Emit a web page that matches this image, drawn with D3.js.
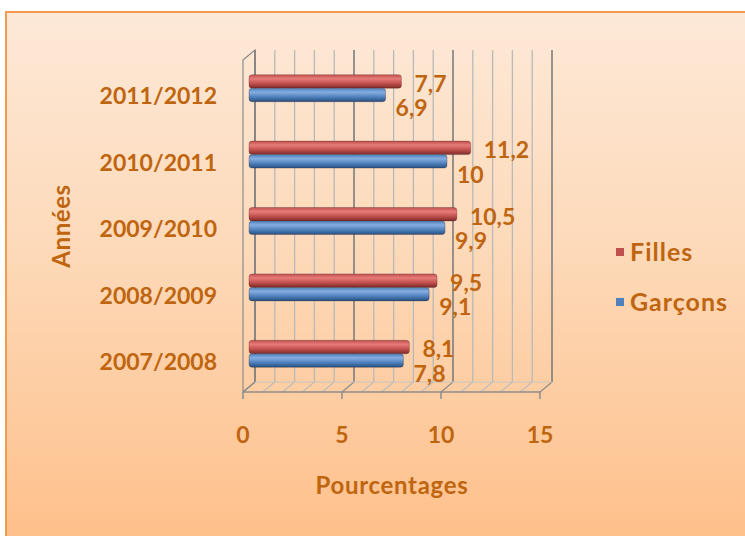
<!DOCTYPE html>
<html>
<head>
<meta charset="utf-8">
<script src="https://cdn.jsdelivr.net/npm/d3@7"></script>
<style>
  body { margin: 0; background: #fff; }
  svg text { font-family: Lato, "Open Sans", sans-serif; font-weight: bold; }
</style>
</head>
<body>
<svg id="chart" width="745" height="536"></svg>
<script>
// data
var years = ["2007/2008", "2008/2009", "2009/2010", "2010/2011", "2011/2012"];
var filles = [8.1, 9.5, 10.5, 11.2, 7.7];
var garcons = [7.8, 9.1, 9.9, 10, 6.9];
var xTicks = [0, 5, 10, 15];
var seriesNames = ["Filles", "Garçons"];

var svg = d3.select('#chart');
var defs = svg.append('defs');
var textColor = "#c0650f";

// background
var bg = defs.append('linearGradient').attr('id', 'bg')
  .attr('x1', 0).attr('y1', 0).attr('x2', 0).attr('y2', 1);
bg.append('stop').attr('offset', '0%').attr('stop-color', '#fde9d8');
bg.append('stop').attr('offset', '45%').attr('stop-color', '#fdd9b8');
bg.append('stop').attr('offset', '100%').attr('stop-color', '#febf89');

svg.append('rect')
  .attr('x', 6).attr('y', 12)
  .attr('width', 760).attr('height', 540)
  .style('fill', 'url(#bg)')
  .style('stroke', '#f29a4e')
  .style('stroke-width', 2);

// bar gradients (cylinder look)
function barGrad(id, light, mid, dark) {
  var g = defs.append('linearGradient').attr('id', id)
    .attr('x1', 0).attr('y1', 0).attr('x2', 0).attr('y2', 1);
  g.append('stop').attr('offset', '0%').attr('stop-color', mid);
  g.append('stop').attr('offset', '30%').attr('stop-color', light);
  g.append('stop').attr('offset', '65%').attr('stop-color', mid);
  g.append('stop').attr('offset', '100%').attr('stop-color', dark);
}
barGrad('red', '#e77b78', '#c0504d', '#7e2a28');
barGrad('blue', '#86ade0', '#4f81bd', '#274f80');

/* SCALES */
var x = d3.scaleLinear().domain([0, 15]).range([243, 540]);
var y = d3.scaleBand().domain(years).range([392, 60]);
var depthX = 12, depthY = -10;   // back wall offset
var midX = 6, midY = -5;         // bars sit half way in depth
var barH = 13.5;
var plotTop = 60, plotBottom = 392;

/* WALLS */
var walls = svg.append('g');

// left wall
walls.append('polygon')
  .attr('points', [[x(0), plotTop], [x(0) + depthX, plotTop + depthY],
                   [x(0) + depthX, plotBottom + depthY], [x(0), plotBottom]].join(' '))
  .style('fill', 'none')
  .style('stroke', '#8c8c8c')
  .style('stroke-width', 1.2);

// back wall grid lines
var grid = d3.range(0, 16);
walls.selectAll('line.grid')
  .data(grid)
  .enter()
  .append('line')
  .classed('grid', true)
  .attr('x1', d => x(d) + depthX)
  .attr('x2', d => x(d) + depthX)
  .attr('y1', plotTop + depthY)
  .attr('y2', plotBottom + depthY)
  .style('stroke', d => d % 5 === 0 ? '#7d7d7d' : '#b9b9b9')
  .style('stroke-width', d => d % 5 === 0 ? 1.6 : 1.3);

// floor hatch
walls.selectAll('line.floor')
  .data(grid)
  .enter()
  .append('line')
  .classed('floor', true)
  .attr('x1', d => x(d))
  .attr('y1', plotBottom)
  .attr('x2', d => x(d) + depthX)
  .attr('y2', plotBottom + depthY)
  .style('stroke', d => d % 5 === 0 ? '#8c8c8c' : '#bdbdbd')
  .style('stroke-width', 1.2);

walls.append('line')
  .attr('x1', x(0) + depthX).attr('x2', x(15) + depthX)
  .attr('y1', plotBottom + depthY).attr('y2', plotBottom + depthY)
  .style('stroke', '#c4c4c4');

// front axis
walls.append('line')
  .attr('x1', x(0)).attr('x2', x(15))
  .attr('y1', plotBottom).attr('y2', plotBottom)
  .style('stroke', '#8c8c8c')
  .style('stroke-width', 1.5);

walls.selectAll('line.tick')
  .data(xTicks)
  .enter()
  .append('line')
  .classed('tick', true)
  .attr('x1', d => x(d)).attr('x2', d => x(d))
  .attr('y1', plotBottom).attr('y2', plotBottom + 7)
  .style('stroke', '#8c8c8c')
  .style('stroke-width', 1.5);

/* BARS */
var rows = years.map((yr, i) => ({ year: yr, f: filles[i], g: garcons[i] }));
var bars = svg.append('g');

function drawSeries(key, grad, offset, cls) {
  bars.selectAll('rect.' + cls)
    .data(rows)
    .enter()
    .append('rect')
    .classed(cls, true)
    .attr('x', x(0) + midX)
    .attr('y', d => y(d.year) + y.bandwidth() / 2 + midY + offset)
    .attr('width', d => x(d[key]) - x(0))
    .attr('height', barH)
    .attr('rx', 3)
    .style('fill', 'url(#' + grad + ')')
    .style('stroke', 'rgba(60,30,30,0.35)')
    .style('stroke-width', 0.8);
}
drawSeries('f', 'red', -barH, 'fbar');
drawSeries('g', 'blue', 0, 'gbar');

/* DATA LABELS */
var fmt = v => String(v).replace('.', ',');
var labels = svg.append('g').style('fill', textColor).style('font-size', '23px');

labels.selectAll('text.fl')
  .data(rows)
  .enter()
  .append('text')
  .classed('fl', true)
  .attr('x', d => x(d.f) + midX + 13)
  .attr('y', d => y(d.year) + y.bandwidth() / 2 + midY - barH / 2 + 2)
  .attr('dy', '0.36em')
  .text(d => fmt(d.f));

labels.selectAll('text.gl')
  .data(rows)
  .enter()
  .append('text')
  .classed('gl', true)
  .attr('x', d => x(d.g) + midX + 10)
  .attr('y', d => y(d.year) + y.bandwidth() / 2 + midY + barH / 2 + 13)
  .attr('dy', '0.36em')
  .text(d => fmt(d.g));

/* AXIS TEXT */
var axisText = svg.append('g').style('fill', textColor).style('font-size', '23px');

axisText.selectAll('text.cat')
  .data(years)
  .enter()
  .append('text')
  .classed('cat', true)
  .attr('x', 217)
  .attr('y', d => y(d) + y.bandwidth() / 2 + 3)
  .attr('dy', '0.36em')
  .attr('text-anchor', 'end')
  .text(d => d);

axisText.selectAll('text.xt')
  .data(xTicks)
  .enter()
  .append('text')
  .classed('xt', true)
  .attr('x', d => x(d))
  .attr('y', 443)
  .attr('text-anchor', 'middle')
  .text(d => d);

axisText.append('text')
  .attr('x', 392).attr('y', 494)
  .attr('text-anchor', 'middle')
  .style('font-size', '24px')
  .style('letter-spacing', '0.7px')
  .text('Pourcentages');

axisText.append('text')
  .attr('transform', 'translate(61,226) rotate(-90)')
  .attr('dy', '0.36em')
  .attr('text-anchor', 'middle')
  .style('font-size', '24px')
  .style('letter-spacing', '0.6px')
  .text('Années');

/* LEGEND */
var legend = svg.append('g');
var legendColors = ['#c0504d', '#4f81bd'];
var legendY = [252, 302];

legend.selectAll('rect')
  .data(seriesNames)
  .enter()
  .append('rect')
  .attr('x', 616)
  .attr('y', (d, i) => legendY[i] - 4)
  .attr('width', 8).attr('height', 8)
  .style('fill', (d, i) => legendColors[i]);

legend.selectAll('text')
  .data(seriesNames)
  .enter()
  .append('text')
  .attr('x', 630)
  .attr('y', (d, i) => legendY[i])
  .attr('dy', '0.36em')
  .style('fill', textColor)
  .style('font-size', '25px')
  .style('letter-spacing', '1px')
  .text(d => d);
</script>
</body>
</html>
